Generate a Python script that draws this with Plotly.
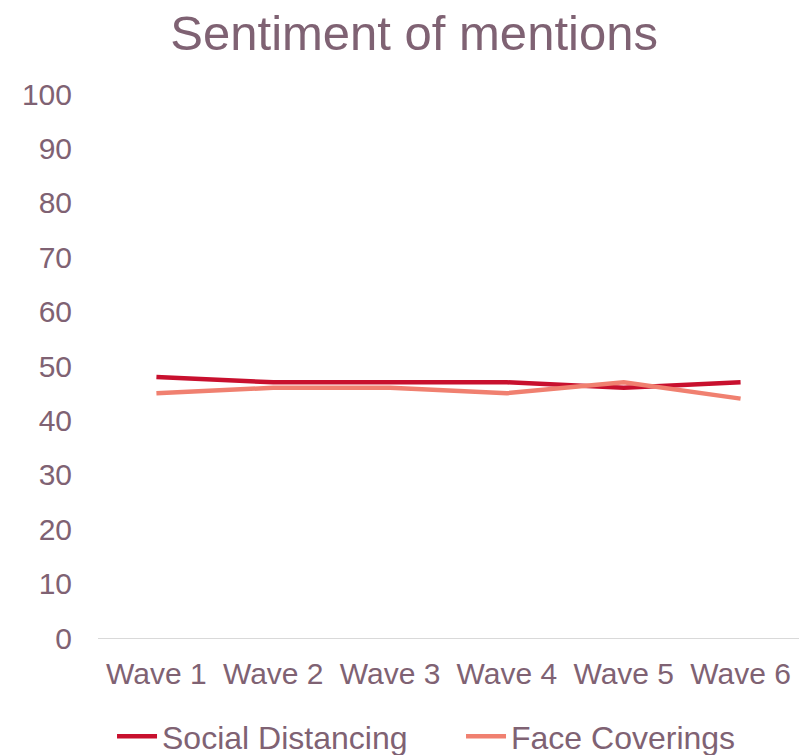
import plotly.graph_objects as go

categories = ["Wave 1", "Wave 2", "Wave 3", "Wave 4", "Wave 5", "Wave 6"]
social_distancing = [48, 47, 47, 47, 46, 47]
face_coverings = [45, 46, 46, 45, 47, 44]
y_ticks = [0, 10, 20, 30, 40, 50, 60, 70, 80, 90, 100]

text_color = "#7f6273"
font_family = "Liberation Sans, Arial, sans-serif"

fig = go.Figure()
fig.add_trace(go.Scatter(x=categories, y=social_distancing, mode="lines",
                         name="Social Distancing",
                         line=dict(color="#c8102e", width=4.5)))
fig.add_trace(go.Scatter(x=categories, y=face_coverings, mode="lines",
                         name="Face Coverings",
                         line=dict(color="#f08070", width=4.5)))

fig.update_layout(
    width=812, height=755,
    paper_bgcolor="white", plot_bgcolor="white",
    margin=dict(l=98, r=13, t=94, b=117, autoexpand=False),
    font=dict(family=font_family, color=text_color, size=30),
    title=dict(text="Sentiment of mentions", x=0.51, xanchor="center",
               y=0.957, yanchor="middle",
               font=dict(size=49, color=text_color, family=font_family)),
    showlegend=True,
    legend=dict(orientation="h", x=0.02, xanchor="left", y=-0.1305, yanchor="top",
                font=dict(size=32, color=text_color), itemwidth=40,
                entrywidth=294, traceorder="normal"),
    xaxis=dict(showgrid=False, showline=True, linecolor="#d9d9d9", linewidth=1,
               range=[-0.5, 5.5], automargin=False,
               ticks="", tickfont=dict(size=30, color=text_color), ticklabelstandoff=9),
    yaxis=dict(range=[0, 100], tickvals=y_ticks, showgrid=False, zeroline=False,
               showline=False, ticks="", automargin=False,
               tickfont=dict(size=30, color=text_color),
               ticklabelstandoff=25),
)

fig.write_html("out.html", config={"displayModeBar": False},
               post_script="document.body.style.margin='0px';")
